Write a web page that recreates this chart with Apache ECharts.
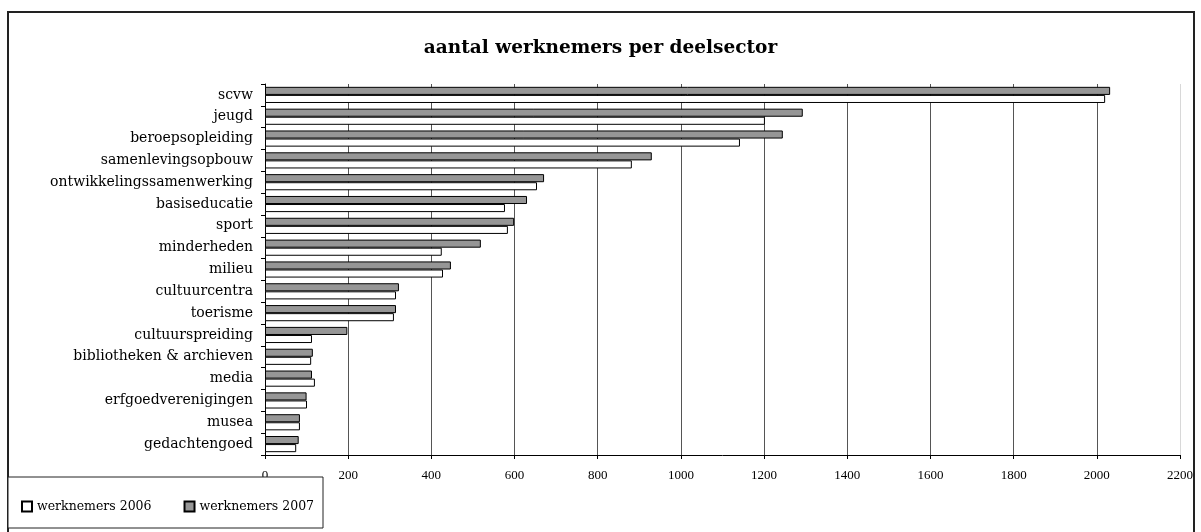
<!DOCTYPE html>
<html>
<head>
<meta charset="utf-8">
<script src="https://cdn.jsdelivr.net/npm/echarts@6/dist/echarts.min.js"></script>
<style>
  html, body { margin: 0; padding: 0; background: #fff; }
  #chart { width: 1201px; height: 532px; }
</style>
</head>
<body>
<div id="chart"></div>
<script>
// deelsectoren, van boven naar onder
var categories = ['scvw', 'jeugd', 'beroepsopleiding', 'samenlevingsopbouw',
    'ontwikkelingssamenwerking', 'basiseducatie', 'sport', 'minderheden', 'milieu',
    'cultuurcentra', 'toerisme', 'cultuurspreiding', 'bibliotheken & archieven',
    'media', 'erfgoedverenigingen', 'musea', 'gedachtengoed'];
var werknemers2006 = [2020, 1202, 1142, 882, 654, 577, 584, 425, 428, 315, 310, 113, 111, 120, 101, 84, 75];
var werknemers2007 = [2032, 1293, 1245, 930, 671, 630, 599, 519, 447, 322, 315, 198, 115, 113, 100, 84, 81];
var seriesNames = ['werknemers 2006', 'werknemers 2007'];

var serif = 'DejaVu Serif';
var chart = echarts.init(document.getElementById('chart'));

// split lines: 0..2200, last one light
var gridColors = [];
for (var i = 0; i < 11; i++) gridColors.push('#555');
gridColors.push('#d8d8d8');

option = {
    backgroundColor: '#fff',
    animation: false,
    title: {
        text: 'aantal werknemers per deelsector',
        left: 'center',
        top: 34,
        textStyle: {
            fontFamily: serif,
            fontSize: 18.5,
            fontWeight: 'bold',
            color: '#000'
        }
    },
    graphic: [{
        type: 'rect',
        z: 0,
        shape: { x: 8, y: 12, width: 1186, height: 540 },
        style: { fill: null, stroke: '#222', lineWidth: 2 }
    }, {
        type: 'rect',
        z: 100,
        shape: { x: 8, y: 477, width: 315, height: 51 },
        style: { fill: '#fff', stroke: '#222', lineWidth: 1 }
    }],
    legend: {
        data: seriesNames,
        left: 16,
        top: 495,
        z: 200,
        itemWidth: 10,
        itemHeight: 10,
        itemGap: 32,
        icon: 'rect',
        textStyle: {
            fontFamily: serif,
            fontSize: 12.5,
            color: '#000'
        }
    },
    grid: {
        left: 265,
        right: 21,
        top: 84,
        bottom: 77
    },
    xAxis: {
        type: 'value',
        min: 0,
        max: 2200,
        interval: 200,
        axisLine: { show: true, lineStyle: { color: '#000', width: 1 } },
        axisTick: { show: true, length: 4, lineStyle: { color: '#000' } },
        axisLabel: {
            margin: 14,
            fontFamily: 'Liberation Serif',
            fontSize: 13,
            color: '#000',
            formatter: function(v) { return String(v); }
        },
        splitLine: { show: true, lineStyle: { color: gridColors, width: 1 } }
    },
    yAxis: {
        type: 'category',
        inverse: true,
        data: categories,
        axisLine: { show: true, lineStyle: { color: '#000', width: 1 } },
        axisTick: { show: true, length: 4, lineStyle: { color: '#000' } },
        axisLabel: {
            margin: 12,
            fontFamily: serif,
            fontSize: 14,
            color: '#000'
        }
    },
    series: [{
        name: seriesNames[1],
        type: 'bar',
        data: werknemers2007,
        barGap: '0%',
        barCategoryGap: '26%',
        itemStyle: { color: '#969696', borderColor: '#000', borderWidth: 1 }
    }, {
        name: seriesNames[0],
        type: 'bar',
        data: werknemers2006,
        barGap: '0%',
        barCategoryGap: '26%',
        itemStyle: { color: '#fff', borderColor: '#000', borderWidth: 1 }
    }]
};
chart.setOption(option);
</script>
</body>
</html>
